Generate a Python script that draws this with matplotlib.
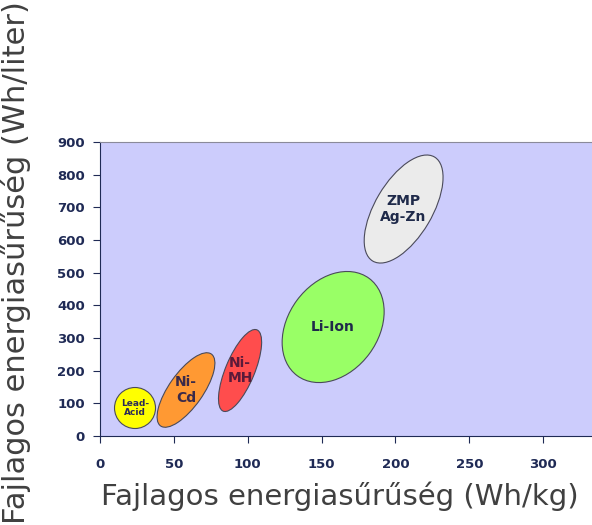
import matplotlib
matplotlib.use("Agg")
import matplotlib.pyplot as plt
import matplotlib.transforms as mtransforms
from matplotlib.patches import Ellipse

# battery types, centre of each region (Wh/kg, Wh/liter)
names = ["Lead-\nAcid", "Ni-\nCd", "Ni-\nMH", "Li-Ion", "ZMP\nAg-Zn"]
spec_energy = [23.7, 58.2, 94.8, 157.8, 205.5]
energy_density = [85.7, 140.8, 200.5, 333.6, 694.8]

xticks = [0, 50, 100, 150, 200, 250, 300]
yticks = [0, 100, 200, 300, 400, 500, 600, 700, 800, 900]

# style of each region: size in pixels (major, minor), tilt, colours
sizes = [(41, 41), (88, 34), (88, 29), (121, 90), (121, 57)]
angles = [0, 54.8, 67.4, 53.6, 59.3]
fills = ["#ffff00", "#ff9933", "#ff4d4d", "#99ff66", "#ebebeb"]
text_cols = ["#2a2a5a", "#3a2a4a", "#5a1a3a", "#1f2a4a", "#1f2a4a"]
text_sizes = [6.5, 10, 10, 10, 10]

navy = "#1f2a55"
fig = plt.figure(figsize=(5.92, 5.25), dpi=100)
ax = fig.add_axes([100 / 592, 89 / 525, 492 / 592, 294 / 525])
ax.set_facecolor("#ccccfc")
ax.set_xlim(0, 333)
ax.set_ylim(0, 900)

for i in range(len(names)):
    trans = fig.dpi_scale_trans + mtransforms.ScaledTranslation(
        spec_energy[i], energy_density[i], ax.transData)
    w, h = sizes[i]
    e = Ellipse((0, 0), w / 100, h / 100, angle=angles[i], transform=trans,
                facecolor=fills[i], edgecolor="#4a4a5a", linewidth=0.8, zorder=3)
    ax.add_patch(e)
    ax.text(spec_energy[i], energy_density[i], names[i], ha="center", va="center",
            fontsize=text_sizes[i], fontweight="bold", color=text_cols[i],
            family="DejaVu Sans", linespacing=1.1, zorder=4)

ax.set_xticks(xticks)
ax.set_yticks(yticks)
ax.tick_params(direction="out", length=5, width=0.8, color=navy, labelcolor=navy,
               labelsize=9.5)
ax.tick_params(axis="x", pad=11)
ax.tick_params(axis="y", pad=6)
for lab in ax.get_xticklabels() + ax.get_yticklabels():
    lab.set_fontweight("bold")
    lab.set_family("DejaVu Sans")
ax.spines["left"].set_color(navy)
ax.spines["bottom"].set_color(navy)
ax.spines["top"].set_color("#8a8a9a")
ax.spines["right"].set_visible(False)

fig.text(340 / 592, 20 / 525, "Fajlagos energiasűrűség (Wh/kg)", ha="center",
         va="baseline", fontsize=21, color="#404040", family="DejaVu Sans")
fig.text(16 / 592, 0.5, "Fajlagos energiasűrűség (Wh/liter)", ha="center",
         va="center", rotation=90, fontsize=22, color="#404040", family="DejaVu Sans")

fig.savefig("out.png", dpi=100)
